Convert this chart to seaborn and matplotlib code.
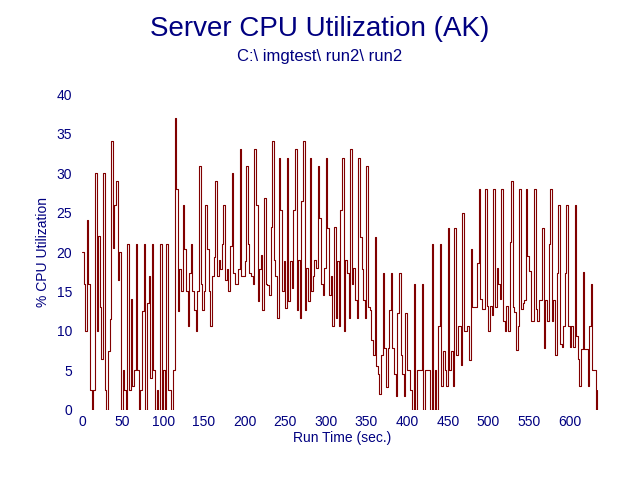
import numpy as np
import pandas as pd
import matplotlib
matplotlib.use("Agg")
import matplotlib.pyplot as plt
import seaborn as sns

# CPU samples, one every 2 seconds, starting at t=0
SAMPLE_SEC = 2

cpu_000_048 = [20, 16, 10, 24, 16, 2.5, 0, 2.5, 30, 10,
               22, 13, 6.5, 30, 2.5, 0, 7.5, 11.5, 34, 20.5,
               26, 29, 16.5, 20, 0]
cpu_050_118 = [5, 2.5, 0, 21, 2.5, 14, 3, 5, 21, 5,
               0, 2.5, 12.5, 21, 0, 13.5, 17, 4, 21, 5,
               0, 2.5, 0, 21, 0, 5, 0, 21, 2.5, 2.5,
               0, 5, 37, 28, 12.5]
cpu_120_212 = [17.8, 15, 26, 20.4, 15, 10.6, 17.3, 21, 15, 12.6,
               10, 15, 30.9, 16, 12.6, 15, 26, 20.4, 15, 10.6,
               17, 19.4, 29, 17, 19, 17.8, 21, 26, 16.5, 17.8,
               15, 20.8, 30, 17.3, 16, 16, 17.8, 33, 17, 17,
               18.8, 30.9, 21, 17.3, 17, 16, 33]
cpu_214_320 = [26, 13.8, 17.8, 19.6, 12.6, 26.9, 16, 15.8, 14.5, 23.2,
               34, 19, 17, 11.6, 31.9, 25.3, 15, 18.9, 12.9, 31.9,
               13.8, 18.9, 15.5, 25.3, 33, 12.6, 19, 11.6, 26.4, 34,
               12.6, 18, 13.8, 31.9, 15, 17, 19, 18, 30.9, 24.3,
               16, 14.6, 18, 31.9, 23, 14.6, 17, 10.6, 23.2, 11.6,
               18.9, 10.6, 25.3, 31.9]
cpu_322_430 = [10, 19, 17.3, 11.6, 33, 16, 18, 13.9, 11.6, 31.9,
               21.9, 17.8, 13.9, 11.6, 30.9, 13, 12.6, 8.8, 7, 21.9,
               5.5, 4.6, 2, 7, 17.3, 7.9, 2.9, 7.9, 12.6, 17.3,
               7.9, 4.6, 1.8, 12.3, 17.3, 7, 4.6, 1.8, 12.3, 5,
               5, 2.5, 0, 16, 0, 5, 5, 5, 16, 0,
               5, 5, 5, 0, 21]
cpu_432_538 = [0, 5, 0, 10.6, 21, 3, 7.5, 5, 3, 23,
               5, 7.5, 3, 23, 7, 10.6, 10.6, 5.7, 25, 10,
               10, 10.6, 6.3, 20.4, 13, 13, 13, 18.6, 28, 14,
               12.8, 12.8, 28, 13.2, 10, 13.2, 12, 28, 13, 18,
               16, 14, 28, 11.2, 10, 13.2, 10, 21.3, 29, 13,
               12.4, 7.6, 10.6, 28]
cpu_540_634 = [12.8, 13.5, 13.9, 28, 19.5, 17.6, 11.2, 11.2, 28, 12.8,
               11.2, 13.9, 13.9, 23, 7.8, 13.9, 11.2, 21, 28, 11.2,
               13.9, 7, 17.3, 26, 8.3, 8, 10.6, 17.3, 26, 10.6,
               8, 10.6, 8, 26, 9.3, 6.4, 3, 7.7, 17.5, 7.7,
               7.7, 3, 10.6, 16, 5, 5, 0, 2.5]

cpu = (cpu_000_048 + cpu_050_118 + cpu_120_212 + cpu_214_320
       + cpu_322_430 + cpu_432_538 + cpu_540_634)
run_time = np.arange(len(cpu)) * SAMPLE_SEC

df = pd.DataFrame({"time": run_time, "cpu": cpu})

navy = "#000080"
sns.set_style("white")
plt.rcParams["font.family"] = ["Liberation Sans", "DejaVu Sans"]

fig = plt.figure(figsize=(6.4, 4.8), dpi=100)
ax = fig.add_axes([0.128, 0.146, 0.813, 0.658])

sns.lineplot(data=df, x="time", y="cpu", color="#800000", linewidth=0.8,
             drawstyle="steps-post", errorbar=None, ax=ax)

ax.set_xlim(0, 640)
ax.set_ylim(0, 40)
ax.set_xticks(range(0, 601, 50))
ax.set_yticks(range(0, 41, 5))
for s in ax.spines.values():
    s.set_visible(False)
ax.tick_params(length=0, labelsize=10, labelcolor=navy)
ax.tick_params(axis="y", pad=7)
ax.tick_params(axis="x", pad=4)

ax.set_xlabel("Run Time (sec.)", fontsize=10, color=navy, labelpad=1)
ax.set_ylabel("% CPU Utilization", fontsize=10, color=navy, labelpad=5)

fig.text(0.5, 0.94, "Server CPU Utilization (AK)", ha="center", va="center",
         fontsize=20, color=navy)
fig.text(0.5, 0.883, "C:\\ imgtest\\ run2\\ run2", ha="center", va="center",
         fontsize=12, color=navy)

plt.savefig("out.png", dpi=100)
